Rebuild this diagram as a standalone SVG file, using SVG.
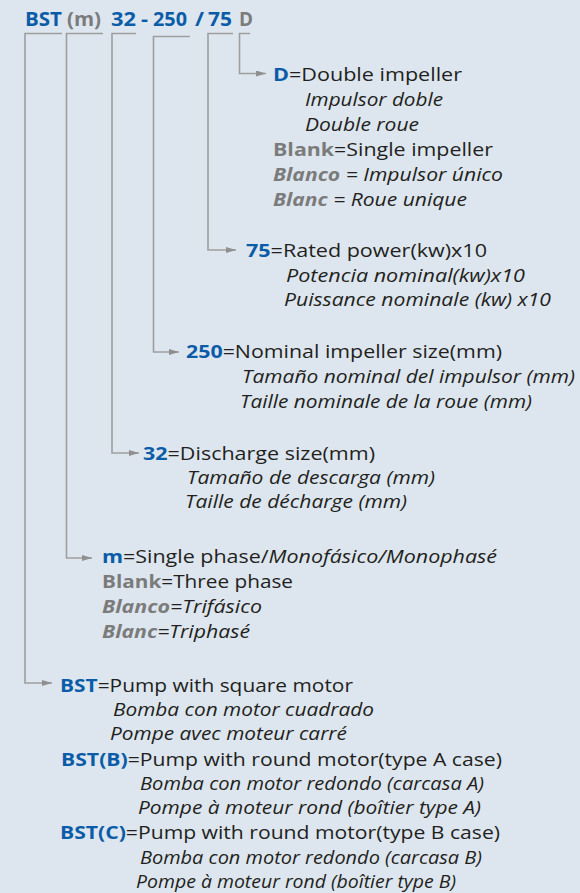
<svg xmlns="http://www.w3.org/2000/svg" width="580" height="893" viewBox="0 0 580 893">
<style>
text{font-family:"Open Sans","Noto Sans",sans-serif;font-size:18.5px;fill:#231f20}
.h{font-size:20px;font-weight:bold}
.i{font-style:italic}
.b{font-weight:bold;fill:#0b5ca8}
.g{font-weight:bold;fill:#7b7b7b}
.c{fill:none;stroke:#9e9e9e;stroke-width:1.6}
</style>
<defs>
<marker id="ah" markerUnits="userSpaceOnUse" markerWidth="12" markerHeight="8" refX="10" refY="3" orient="auto">
<path d="M0,0 L10,3 L0,6 Z" fill="#8f8f8f"/>
</marker>
</defs>
<rect width="580" height="893" fill="#dde6ee"/>
<g id="header">
<text class="h b" x="25" y="26" textLength="37" lengthAdjust="spacingAndGlyphs">BST</text>
<text class="h g" x="67" y="26" textLength="34" lengthAdjust="spacingAndGlyphs">(m)</text>
<text class="h b" x="111" y="26" textLength="25" lengthAdjust="spacingAndGlyphs">32</text>
<text class="h b" x="141" y="26" textLength="7" lengthAdjust="spacingAndGlyphs">-</text>
<text class="h b" x="153" y="26" textLength="34" lengthAdjust="spacingAndGlyphs">250</text>
<text class="h b" x="195" y="26" textLength="9" lengthAdjust="spacingAndGlyphs">/</text>
<text class="h b" x="208" y="26" textLength="24" lengthAdjust="spacingAndGlyphs">75</text>
<text class="h g" x="239" y="26" textLength="14" lengthAdjust="spacingAndGlyphs">D</text>
</g>
<g id="connectors">
<path class="c" d="M62,33.5 H25 V683 H52" marker-end="url(#ah)"/>
<path class="c" d="M103,33.5 H66.5 V558 H92" marker-end="url(#ah)"/>
<path class="c" d="M136,33.5 H112 V453 H139" marker-end="url(#ah)"/>
<path class="c" d="M190,36.5 H153.5 V352 H179" marker-end="url(#ah)"/>
<path class="c" d="M233,33.5 H208 V250 H236" marker-end="url(#ah)"/>
<path class="c" d="M250,33.5 H239.5 V73.5 H266" marker-end="url(#ah)"/>
</g>
<g id="node-d">
<text x="273" y="81" textLength="189" lengthAdjust="spacingAndGlyphs"><tspan class="b">D</tspan>=Double impeller</text>
<text class="i" x="305" y="106" textLength="138" lengthAdjust="spacingAndGlyphs">Impulsor doble</text>
<text class="i" x="305" y="131" textLength="114" lengthAdjust="spacingAndGlyphs">Double roue</text>
<text x="273" y="156" textLength="220" lengthAdjust="spacingAndGlyphs"><tspan class="g">Blank</tspan>=Single impeller</text>
<text class="i" x="273" y="181" textLength="230" lengthAdjust="spacingAndGlyphs"><tspan class="g">Blanco</tspan> = Impulsor único</text>
<text class="i" x="273" y="206" textLength="194" lengthAdjust="spacingAndGlyphs"><tspan class="g">Blanc</tspan> = Roue unique</text>
</g>
<g id="node-75">
<text x="246" y="257" textLength="241" lengthAdjust="spacingAndGlyphs"><tspan class="b">75</tspan>=Rated power(kw)x10</text>
<text class="i" x="286" y="282" textLength="239" lengthAdjust="spacingAndGlyphs">Potencia nominal(kw)x10</text>
<text class="i" x="284" y="306" textLength="267" lengthAdjust="spacingAndGlyphs">Puissance nominale (kw) x10</text>
</g>
<g id="node-250">
<text x="186" y="358" textLength="316" lengthAdjust="spacingAndGlyphs"><tspan class="b">250</tspan>=Nominal impeller size(mm)</text>
<text class="i" x="242" y="383" textLength="333" lengthAdjust="spacingAndGlyphs">Tamaño nominal del impulsor (mm)</text>
<text class="i" x="240" y="408" textLength="292" lengthAdjust="spacingAndGlyphs">Taille nominale de la roue (mm)</text>
</g>
<g id="node-32">
<text x="143" y="460" textLength="232" lengthAdjust="spacingAndGlyphs"><tspan class="b">32</tspan>=Discharge size(mm)</text>
<text class="i" x="187" y="484" textLength="248" lengthAdjust="spacingAndGlyphs">Tamaño de descarga (mm)</text>
<text class="i" x="185" y="508" textLength="222" lengthAdjust="spacingAndGlyphs">Taille de décharge (mm)</text>
</g>
<g id="node-m">
<text x="102" y="563" textLength="395" lengthAdjust="spacingAndGlyphs"><tspan class="b">m</tspan>=Single phase/<tspan class="i">Monofásico/Monophasé</tspan></text>
<text x="102" y="588" textLength="191" lengthAdjust="spacingAndGlyphs"><tspan class="g">Blank</tspan>=Three phase</text>
<text class="i" x="102" y="613" textLength="160" lengthAdjust="spacingAndGlyphs"><tspan class="g">Blanco</tspan>=Trifásico</text>
<text class="i" x="102" y="638" textLength="148" lengthAdjust="spacingAndGlyphs"><tspan class="g">Blanc</tspan>=Triphasé</text>
</g>
<g id="node-bst">
<text x="60" y="692" textLength="293" lengthAdjust="spacingAndGlyphs"><tspan class="b">BST</tspan>=Pump with square motor</text>
<text class="i" x="113" y="716" textLength="261" lengthAdjust="spacingAndGlyphs">Bomba con motor cuadrado</text>
<text class="i" x="110" y="740" textLength="237" lengthAdjust="spacingAndGlyphs">Pompe avec moteur carré</text>
<text x="61" y="766" textLength="441" lengthAdjust="spacingAndGlyphs"><tspan class="b">BST(B)</tspan>=Pump with round motor(type A case)</text>
<text class="i" x="140" y="790" textLength="344" lengthAdjust="spacingAndGlyphs">Bomba con motor redondo (carcasa A)</text>
<text class="i" x="138" y="814" textLength="343" lengthAdjust="spacingAndGlyphs">Pompe à moteur rond (boîtier type A)</text>
<text x="60" y="839" textLength="440" lengthAdjust="spacingAndGlyphs"><tspan class="b">BST(C)</tspan>=Pump with round motor(type B case)</text>
<text class="i" x="140" y="864" textLength="342" lengthAdjust="spacingAndGlyphs">Bomba con motor redondo (carcasa B)</text>
<text class="i" x="136" y="888" textLength="320" lengthAdjust="spacingAndGlyphs">Pompe à moteur rond (boîtier type B)</text>
</g>
</svg>
